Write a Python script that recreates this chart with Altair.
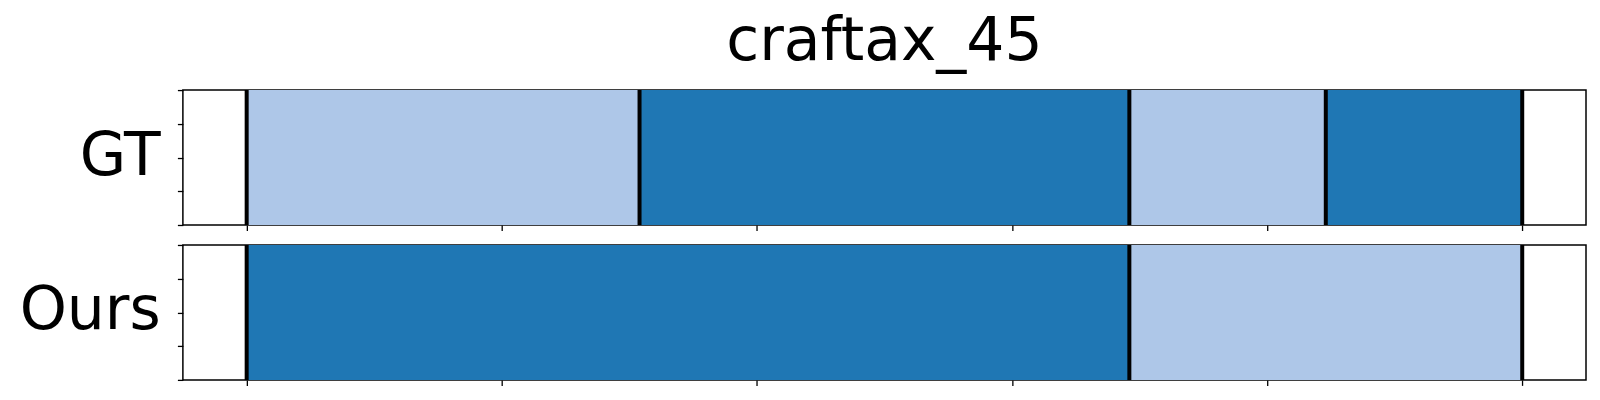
import altair as alt
import pandas as pd

title_text = "craftax_45"
row_names = ["GT", "Ours"]

# segment boundaries (normalised 0..100) and segment classes
gt_bounds = [0, 30.8, 69.2, 84.6, 100]
gt_classes = ["a", "b", "a", "b"]
ours_bounds = [0, 69.2, 100]
ours_classes = ["b", "a"]

x_ticks = [0, 20, 40, 60, 80, 100]
y_ticks = [0, 0.25, 0.5, 0.75, 1]
class_domain = ["a", "b"]
class_colors = ["#aec7e8", "#1f77b4"]

FONT = "DejaVu Sans"
W, H = 1404, 135


def panel(name, bounds, classes, title=None):
    seg = pd.DataFrame({"start": bounds[:-1], "end": bounds[1:], "cls": classes})
    bnd = pd.DataFrame({"b": bounds})
    xscale = alt.Scale(domain=[-5, 105], nice=False, zero=False)
    yscale = alt.Scale(domain=[0, 1], nice=False)
    xaxis = alt.Axis(values=x_ticks, labels=False, domain=False, grid=False,
                     tickColor="black", tickSize=5.5, tickWidth=1.3, title=None)
    yaxis = alt.Axis(values=y_ticks, labels=False, domain=False, grid=False,
                     tickColor="black", tickSize=5.5, tickWidth=1.3,
                     title=name, titleAngle=0, titleFont=FONT, titleFontSize=60,
                     titleFontWeight="normal", titleColor="black",
                     titleAlign="right", titleBaseline="alphabetic",
                     titleX=-22.7, titleY=84)
    rects = alt.Chart(seg).mark_rect().encode(
        x=alt.X("start:Q", scale=xscale, axis=xaxis),
        x2="end:Q",
        y=alt.Y(datum=0, scale=yscale, axis=yaxis),
        y2=alt.datum(1),
        color=alt.Color("cls:N", scale=alt.Scale(domain=class_domain, range=class_colors), legend=None),
    )
    rules = alt.Chart(bnd).mark_rule(color="black", strokeWidth=4).encode(
        x=alt.X("b:Q", scale=xscale, axis=xaxis),
        y=alt.Y(datum=0, scale=yscale, axis=yaxis),
        y2=alt.datum(1),
    )
    ch = alt.layer(rects, rules).properties(width=W, height=H)
    if title:
        ch = ch.properties(title=alt.TitleParams(title, font=FONT, fontSize=60, fontWeight="normal",
                                                 color="black", anchor="middle", frame="group",
                                                 baseline="alphabetic", offset=-32.4))
    return ch


chart = alt.vconcat(
    panel(row_names[0], gt_bounds, gt_classes, title=title_text),
    panel(row_names[1], ours_bounds, ours_classes),
    spacing=10,
).properties(
    padding={"left": 10, "top": 3, "right": 5, "bottom": 5},
).configure(
    background="white",
    view=alt.ViewConfig(stroke="black", strokeWidth=1.5),
)

chart.save("out.html", embed_options={"renderer": "svg", "actions": False})
